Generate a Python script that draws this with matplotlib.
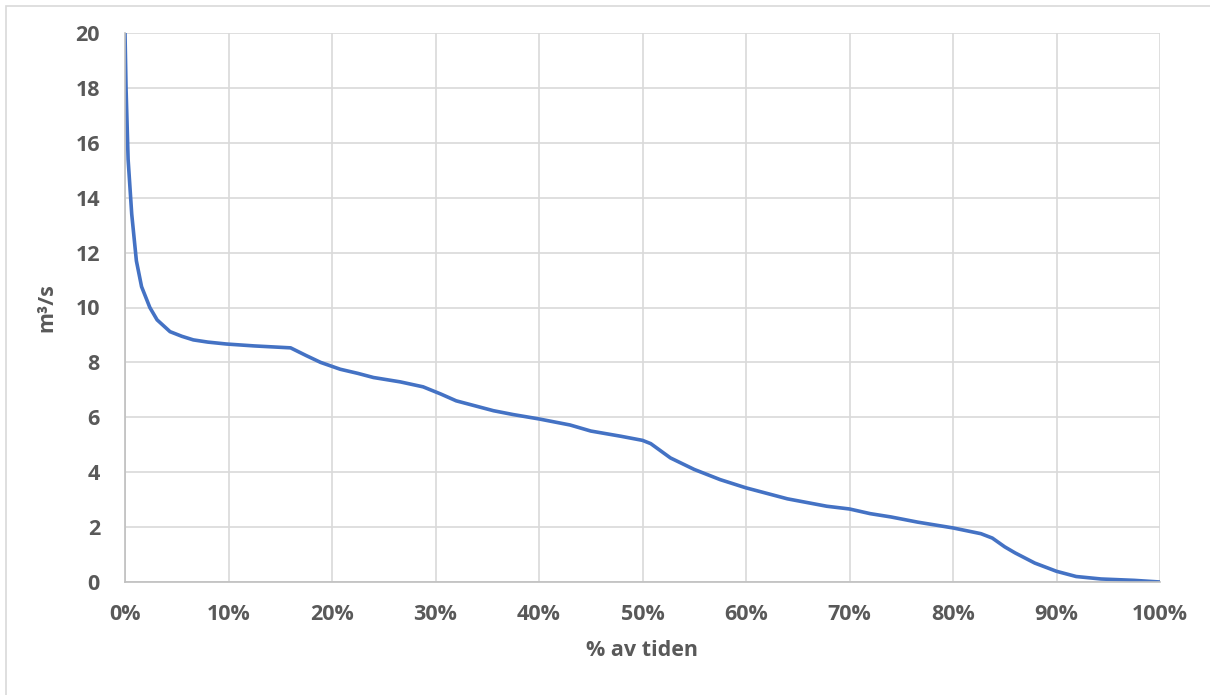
import matplotlib.pyplot as plt
from matplotlib.patches import Rectangle

# Flow duration curve
pct_time = [0, 0.1, 0.3, 0.65, 1.1, 1.6, 2.4, 3.1, 4.35, 5.5, 6.6, 8.0, 9.8, 12.5,
            15.0, 16.0, 17.5, 18.9, 20.8, 22.5, 24.0, 26.6, 28.8, 30.5, 32.0, 35.6,
            37.5, 40.0, 43.0, 45.0, 47.9, 50.0, 50.8, 52.7, 55.0, 57.5, 60.0, 64.0,
            67.8, 70.0, 72.0, 74.0, 76.6, 80.0, 82.7, 83.8, 85.0, 86.0, 87.9, 90.0,
            91.9, 94.3, 97.5, 100.0]
flow = [20.0, 18.0, 15.4, 13.4, 11.7, 10.76, 10.0, 9.55, 9.12, 8.95, 8.82, 8.74,
        8.67, 8.6, 8.55, 8.53, 8.25, 8.0, 7.75, 7.6, 7.45, 7.29, 7.11, 6.85, 6.6,
        6.24, 6.1, 5.94, 5.72, 5.5, 5.31, 5.16, 5.04, 4.52, 4.1, 3.73, 3.43, 3.03,
        2.76, 2.66, 2.49, 2.37, 2.18, 1.97, 1.76, 1.6, 1.28, 1.06, 0.69, 0.39,
        0.2, 0.11, 0.06, 0.0]

x_ticks = [0, 10, 20, 30, 40, 50, 60, 70, 80, 90, 100]
x_tick_labels = ['0%', '10%', '20%', '30%', '40%', '50%', '60%', '70%', '80%', '90%', '100%']
y_ticks = [0, 2, 4, 6, 8, 10, 12, 14, 16, 18, 20]

text_color = '#595959'
plt.rcParams['font.family'] = ['Open Sans', 'DejaVu Sans']
plt.rcParams['font.weight'] = 'bold'

fig = plt.figure(figsize=(12.1, 6.95), dpi=100)
ax = fig.add_axes([125 / 1210, 1 - 582 / 695, 1035 / 1210, 549 / 695])

# chart border (only top and left visible in the reference crop)
fig.patches.append(Rectangle((6 / 1210, -0.1), 1.2, 1 - 6 / 695 + 0.1,
                             transform=fig.transFigure, fill=False,
                             edgecolor='#D9D9D9', linewidth=1.2))

ax.plot(pct_time, flow, color='#4472C4', linewidth=2.6, solid_capstyle='butt')

ax.set_xlim(0, 100)
ax.set_ylim(0, 20)
ax.set_xticks(x_ticks)
ax.set_xticklabels(x_tick_labels)
ax.set_yticks(y_ticks)
ax.grid(True, color='#D9D9D9', linewidth=1.2)
ax.set_axisbelow(True)
for side in ['top', 'right']:
    ax.spines[side].set_visible(False)
ax.spines['left'].set_color('#BFBFBF')
ax.spines['bottom'].set_color('#BFBFBF')
ax.spines['left'].set_linewidth(1.2)
ax.spines['bottom'].set_linewidth(1.2)

ax.tick_params(length=0, labelsize=15.5, labelcolor=text_color)
ax.tick_params(axis='x', pad=16)
ax.tick_params(axis='y', pad=18)
for lbl in ax.get_xticklabels() + ax.get_yticklabels():
    lbl.set_fontweight('bold')

ax.set_xlabel('% av tiden', fontsize=15.5, fontweight='bold', color=text_color, labelpad=11)
ax.set_ylabel('m³/s', fontsize=15.5, fontweight='bold', color=text_color, labelpad=13)

fig.savefig('out.png', dpi=100)
